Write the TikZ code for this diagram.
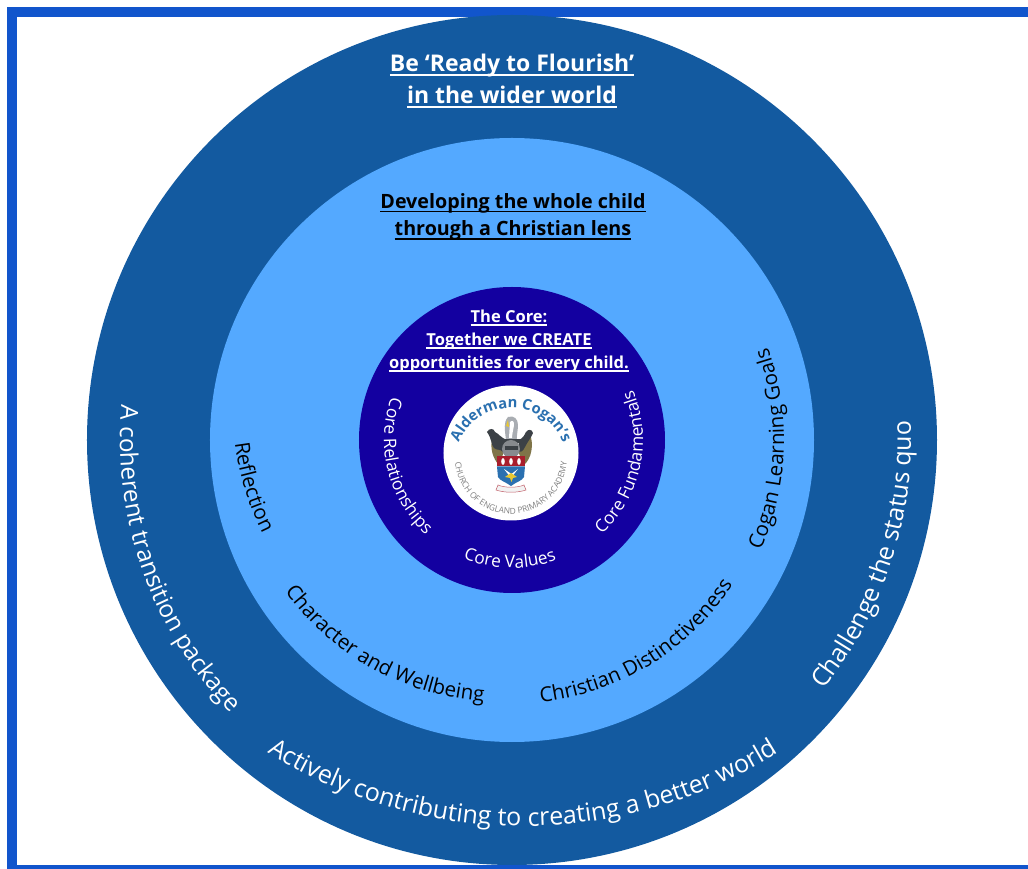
\documentclass[tikz,border=0pt]{standalone}
\usepackage{fontspec}
\usepackage{xcolor}
\setmainfont{Open Sans}
\usetikzlibrary{decorations.text}

\definecolor{frameblue}{HTML}{1155CC}
\definecolor{outerblue}{HTML}{135AA0}
\definecolor{middleblue}{HTML}{54A9FF}
\definecolor{coreblue}{HTML}{1300A0}
\definecolor{logoblue}{HTML}{2A70B0}
\definecolor{crestgrey}{HTML}{A9ADB2}
\definecolor{crestdark}{HTML}{3C4146}
\definecolor{crestolive}{HTML}{7F7448}
\definecolor{crestred}{HTML}{A81E2C}
\definecolor{crestgold}{HTML}{E8C832}

\tikzset{
    outertitle/.style={align=center, text=white, font=\bfseries\fontsize{23}{32}\selectfont},
    middletitle/.style={align=center, text=black, font=\bfseries\fontsize{19.7}{27.5}\selectfont},
    coretitle/.style={align=center, text=white, font=\bfseries\fontsize{16.5}{23}\selectfont},
}

% underline that runs through the descenders
\newsavebox{\titlebox}
\newcommand{\titleline}[1]{\sbox{\titlebox}{#1}\rlap{\rule[-0.2em]{\wd\titlebox}{0.08em}}\box\titlebox}

% text on a ring: centre, middle angle, radius, format, text
\newcommand{\ringtext}[5]{
    \path[shift={(#1)}, decorate, decoration={text along path, text align=center, text={|#4|#5}}]
        ({#2-85}:#3) arc[start angle={#2-85}, end angle={#2+85}, radius=#3];
}
\newcommand{\outerfont}{\color{white}\fontsize{25}{25}\selectfont}
\newcommand{\leftfont}{\color{white}\fontsize{24.2}{24.2}\selectfont}
\newcommand{\middlefont}{\color{black}\fontsize{20.5}{20.5}\selectfont}
\newcommand{\corefont}{\color{white}\fontsize{17.3}{17.3}\selectfont}

\begin{document}
\begin{tikzpicture}[x=1pt, y=1pt]
    \useasboundingbox (-512,-429) rectangle (516,440);

    % Frame
    \fill[white] (-512,-429) rectangle (516,440);
    \fill[frameblue] (-505,433) rectangle (516,423);
    \fill[frameblue] (-505,433) rectangle (-495,-429);
    \fill[frameblue] (-505,-425) rectangle (516,-429);

    % Rings
    \fill[outerblue] (0,0) circle (425);
    \fill[middleblue] (0,0) circle (302);
    \fill[coreblue] (0,0) circle (153);

    % Titles
    \node[outertitle] (flourish) at (0,359) {\titleline{Be ‘Ready to Flourish’}\\\titleline{in the wider world}};
    \node[middletitle] (wholechild) at (1,223) {\titleline{Developing the whole child}\\\titleline{through a Christian lens}};
    \node[coretitle] (together) at (-3,99) {\titleline{The Core:}\\\titleline{Together we CREATE}\\\titleline{opportunities for every child.}};

    % Outer ring labels
    \ringtext{11,94}{270}{480}{\outerfont}{Actively contributing to creating a better world}
    \ringtext{0,0}{199.5}{392}{\leftfont}{A coherent transition package}
    \ringtext{0,0}{-18}{399}{\outerfont}{Challenge the status quo}

    % Middle ring labels
    \ringtext{0,0}{-2}{272}{\middlefont}{Cogan Learning Goals}
    \ringtext{0,0}{-58.5}{264}{\middlefont}{Christian Distinctiveness}
    \ringtext{-10,6}{241}{268}{\middlefont}{Character and Wellbeing}
    \ringtext{-7,30}{197}{272}{\middlefont}{Reflection}

    % Core labels
    \ringtext{0,0}{194}{128}{\corefont}{Core Relationships}
    \ringtext{0,0}{269}{128}{\corefont}{Core Values}
    \ringtext{2,0}{-12}{129}{\corefont}{Core Fundamentals}

    % Logo
    \begin{scope}[shift={(-1,-13)}]
        \fill[white] (0,0) circle (67.5);
        \path[decorate, decoration={text along path, text align=center,
            text={|\color{logoblue}\bfseries\fontsize{14.8}{14.8}\selectfont|Alderman Cogan’s}}]
            (0,-11.5) ++(175:56.5) arc[start angle=175, end angle=5, radius=56.5];
        \path[decorate, decoration={text along path, text align=center,
            text={|\color{gray}\fontsize{8.4}{8.4}\selectfont|CHURCH OF ENGLAND PRIMARY ACADEMY}}]
            (0,-5) ++(178:56) arc[start angle=178, end angle=362, radius=56];

        % Crest
        \fill[crestolive] (-18,16) .. controls (-22,6) and (-18,-6) .. (-12,-12) -- (-6,4) -- cycle;
        \fill[crestolive] (18,22) .. controls (24,8) and (20,-6) .. (13,-12) -- (6,4) -- cycle;
        \fill[crestdark] (-24,21) .. controls (-22,25) and (-17,25) .. (-16,21) .. controls (-13,20) and (-10,15) .. (-4,13) -- (-7,0) .. controls (-11,5) and (-14,2) .. (-17,5) .. controls (-20,8) and (-19,14) .. (-24,21) -- cycle;
        \fill[crestdark] (8,13) .. controls (12,15) and (14,18) .. (15,21) .. controls (17,24) and (21,24) .. (22,20) .. controls (20,15) and (17,12) .. (14,6) .. controls (12,2) and (10,0) .. (7,1) -- cycle;
        \fill[crestgrey] (-5,12) .. controls (-6,24) and (-8,30) .. (-3,36) .. controls (3,38) and (7,34) .. (7,28) .. controls (7,22) and (5,16) .. (6,10) -- cycle;
        \fill[white] (-1,31) .. controls (1,33) and (3,32) .. (3,29) .. controls (3,25) and (1,20) .. (1,15) -- (-2,15) -- cycle;
        \fill[crestgold] (-5,27) -- (-3,33) -- (-2,26) -- cycle;
        \fill[crestdark] (-9,14) rectangle (9,10);
        \fill[crestgrey!80!black] (0,4) circle (9);
        \fill[crestdark] (-6,3) rectangle (7,7);
        \fill[crestred] (-14,-3.5) rectangle (14,-13.5);
        \foreach \ovalx in {-8,0,8}
            \fill[white] (\ovalx,-8.5) ellipse (1.8 and 3.4);
        \fill[logoblue] (-14,-13.5) -- (14,-13.5) -- (13,-24) .. controls (11,-28) and (5,-29) .. (0,-33) .. controls (-5,-29) and (-11,-28) .. (-13,-24) -- cycle;
        \fill[white] (-7,-16) -- (0,-25) -- (7,-16) -- (0.5,-21) -- cycle;
        \fill[crestgold] (-6,-24) -- (0,-20) -- (6,-24) -- (2,-25) -- (0.5,-29) -- (-1,-25) -- cycle;
        \draw[crestred!70, fill=white!90!gray, line width=0.5pt] (-13,-32) .. controls (-6,-35) and (6,-35) .. (13,-32) -- (15,-37) .. controls (6,-40) and (-6,-40) .. (-15,-37) -- cycle;
    \end{scope}
\end{tikzpicture}
\end{document}
